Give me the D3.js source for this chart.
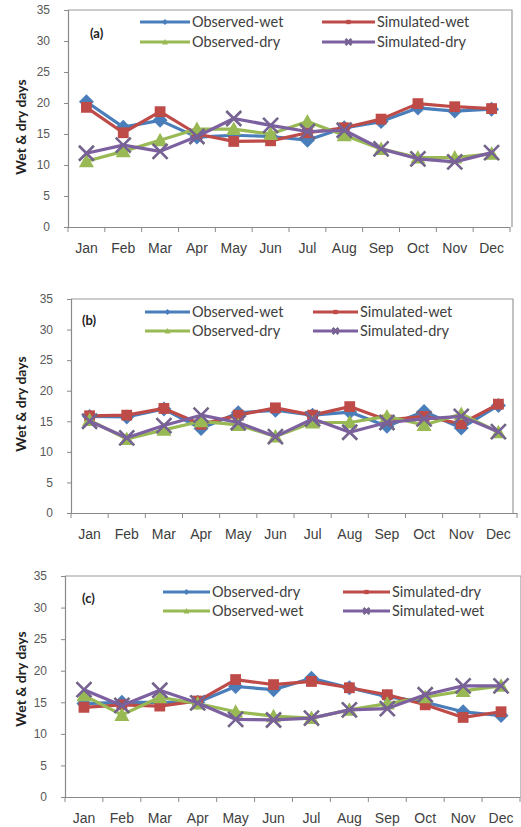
<!DOCTYPE html>
<html><head><meta charset="utf-8">
<script src="https://cdn.jsdelivr.net/npm/d3@7"></script>
<style>body{margin:0;background:#fff}svg{display:block}</style>
</head><body>
<script>
const months = ["Jan","Feb","Mar","Apr","May","Jun","Jul","Aug","Sep","Oct","Nov","Dec"];
const yTicks = [0,5,10,15,20,25,30,35];
const namesAB = ["Observed-wet","Simulated-wet","Observed-dry","Simulated-dry"];
const namesC  = ["Observed-dry","Simulated-dry","Observed-wet","Simulated-wet"];
const panelLabels = ["(a)","(b)","(c)"];
const yTitle = "Wet & dry days";

// Panel (a)
const aObsWet = [20.2,16.1,17.2,14.5,14.8,14.6,14.0,16.0,17.0,19.2,18.7,19.0];
const aSimWet = [19.3,15.2,18.6,15.0,13.8,13.9,15.2,16.0,17.4,19.9,19.4,19.1];
const aObsDry = [10.6,12.2,14.0,15.8,15.8,15.0,17.0,14.8,12.6,11.2,11.2,11.8];
const aSimDry = [11.9,13.2,12.2,14.6,17.5,16.4,15.4,15.6,12.6,11.0,10.5,12.0];
// Panel (b)
const bObsWet = [15.8,15.7,17.0,13.8,16.4,16.8,16.0,16.5,14.2,16.6,13.9,17.6];
const bSimWet = [15.9,16.0,17.1,14.5,16.0,17.2,16.0,17.4,15.2,15.8,14.6,17.8];
const bObsDry = [15.2,12.1,13.6,15.0,14.4,12.5,14.8,14.8,15.8,14.4,16.2,13.2];
const bSimDry = [15.0,12.3,14.3,16.0,14.8,12.5,15.4,13.2,14.8,15.4,15.8,13.3];
// Panel (c)
const cObsDry = [14.8,15.0,15.0,15.0,17.5,17.0,18.8,17.3,15.9,15.0,13.5,12.9];
const cSimDry = [14.2,14.6,14.4,15.2,18.6,17.8,18.3,17.3,16.2,14.6,12.6,13.5];
const cObsWet = [16.1,13.0,15.8,14.8,13.5,12.8,12.5,13.8,14.8,15.8,16.8,17.6];
const cSimWet = [17.0,14.5,16.9,14.9,12.3,12.2,12.5,13.8,14.0,16.2,17.6,17.6];

const colors = ["#4A7EBB","#BE4B48","#98B954","#7D60A0"];
const shapes = ["diamond","square","triangle","x"];

const panels = [
  {label:panelLabels[0], names:namesAB, data:[aObsWet,aSimWet,aObsDry,aSimDry],
   left:68, right:510, frameRight:512, top:10, bottom:227,
   leg:{r1:22,r2:42,c1:[140,190],c2:[322,375]}, lab:[90,38], titleY:127},
  {label:panelLabels[1], names:namesAB, data:[bObsWet,bSimWet,bObsDry,bSimDry],
   left:71, right:517, frameRight:513, top:299, bottom:513,
   leg:{r1:312,r2:331,c1:[145,190],c2:[313,358]}, lab:[82,325], titleY:404},
  {label:panelLabels[2], names:namesC, data:[cObsDry,cSimDry,cObsWet,cSimWet],
   left:65, right:520, frameRight:521, top:576, bottom:797,
   leg:{r1:592,r2:611,c1:[163,210],c2:[343,390]}, lab:[82,603], titleY:679}
];

const svg = d3.select("body").append("svg").attr("width",521).attr("height",827)
  .style("font-family","Lato, 'Open Sans', sans-serif");
svg.append("rect").attr("width",521).attr("height",827).attr("fill","#fff");

function marker(g, shape, cx, cy, color, s) {
  if (shape === "diamond") {
    g.append("path").attr("d",`M${cx},${cy-s}L${cx+s},${cy}L${cx},${cy+s}L${cx-s},${cy}Z`).attr("fill",color);
  } else if (shape === "square") {
    const h = s*0.72;
    g.append("rect").attr("x",cx-h).attr("y",cy-h).attr("width",2*h).attr("height",2*h).attr("fill",color);
  } else if (shape === "triangle") {
    g.append("path").attr("d",`M${cx},${cy-s}L${cx+s},${cy+s*0.8}L${cx-s},${cy+s*0.8}Z`).attr("fill",color);
  } else {
    g.append("path").attr("d",`M${cx-s},${cy-s}L${cx+s},${cy+s}M${cx-s},${cy+s}L${cx+s},${cy-s}`)
      .attr("stroke","#6E6680").attr("stroke-width",2.6).attr("fill","none");
    g.append("path").attr("d",`M${cx-s*0.8},${cy-s*0.8}L${cx+s*0.8},${cy+s*0.8}M${cx-s*0.8},${cy+s*0.8}L${cx+s*0.8},${cy-s*0.8}`)
      .attr("stroke",color).attr("stroke-width",1.4).attr("fill","none");
  }
}

panels.forEach(p => {
  const g = svg.append("g");
  const x = d3.scaleBand().domain(months).range([p.left, p.right]);
  const y = d3.scaleLinear().domain([0,35]).range([p.bottom, p.top]);

  g.append("path").attr("d",`M${p.left},${y(35)}H${p.frameRight}V${y(0)}`)
    .attr("fill","none").attr("stroke","#9A9A9A").attr("stroke-width",1.2);

  const ya = g.append("g").attr("transform",`translate(${p.left},0)`)
    .call(d3.axisLeft(y).tickValues(yTicks).tickSize(4).tickPadding(14));
  ya.select(".domain").attr("stroke","#8A8A8A").attr("stroke-width",1.2);
  ya.selectAll(".tick line").attr("stroke","#8A8A8A");
  ya.selectAll("text").attr("fill","#595959").style("font-size","12px");

  const xa = g.append("g").attr("transform",`translate(0,${p.bottom})`)
    .call(d3.axisBottom(x).tickSize(0).tickPadding(16));
  xa.select(".domain").attr("stroke","#8A8A8A").attr("stroke-width",1.2);
  xa.selectAll("text").attr("fill","#404040").style("font-size","14px");
  const bounds = months.map(m => x(m)).concat([x(months[11]) + x.bandwidth()]);
  g.selectAll(".xt").data(bounds).enter().append("line")
    .attr("x1",d=>d).attr("x2",d=>d).attr("y1",p.bottom).attr("y2",p.bottom+5)
    .attr("stroke","#8A8A8A");

  const line = d3.line().x((d,i)=>x(months[i])+x.bandwidth()/2).y(d=>y(d));
  p.data.forEach((vals, si) => {
    g.append("path").datum(vals).attr("d",line).attr("fill","none")
      .attr("stroke",colors[si]).attr("stroke-width",3.2).attr("stroke-linejoin","round");
    vals.forEach((v,i) => marker(g, shapes[si], x(months[i])+x.bandwidth()/2, y(v), colors[si], 7.5));
  });

  const L = p.leg;
  const pos = [[L.c1,L.r1],[L.c2,L.r1],[L.c1,L.r2],[L.c2,L.r2]];
  pos.forEach((pp, si) => {
    const [cx, ry] = pp;
    g.append("line").attr("x1",cx[0]).attr("x2",cx[1]).attr("y1",ry).attr("y2",ry)
      .attr("stroke",colors[si]).attr("stroke-width",3);
    marker(g, shapes[si], (cx[0]+cx[1])/2, ry, colors[si], 3);
    g.append("text").attr("x",cx[1]+2).attr("y",ry+5).text(p.names[si])
      .attr("fill","#404040").style("font-size","14.5px");
  });

  g.append("text").attr("x",p.lab[0]).attr("y",p.lab[1]).text(p.label)
    .style("font-size","13px").style("font-weight","bold").attr("fill","#222");

  g.append("text").attr("transform",`translate(26,${p.titleY}) rotate(-90)`)
    .attr("text-anchor","middle").text(yTitle)
    .style("font-size","14px").style("font-weight","bold").attr("fill","#222");
});
</script>
</body></html>
